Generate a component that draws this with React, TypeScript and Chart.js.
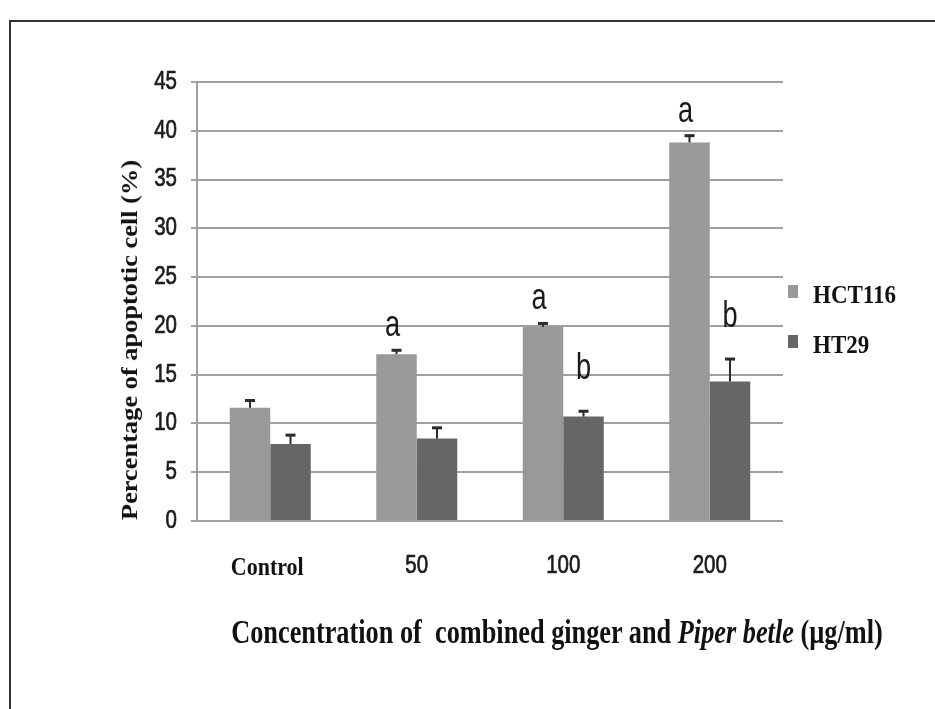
import React, { useEffect, useRef } from 'react';
import { Chart, registerables } from 'chart.js';

Chart.register(...registerables);

// Doses of the combined extract (x axis)
const categories = ['Control', '50', '100', '200'];

// Apoptotic cells (%) and standard errors for each cell line
const hct116Values = [11.6, 17.1, 19.9, 38.8];
const hct116Errors = [0.75, 0.4, 0.35, 0.7];
const ht29Values = [7.9, 8.45, 10.7, 14.3];
const ht29Errors = [0.9, 1.1, 0.55, 2.3];

// Significance letters above the bars
const hct116Letters = ['', 'a', 'a', 'a'];
const ht29Letters = ['', '', 'b', 'b'];

// Y axis range
const yMin = 0;
const yMax = 45;
const yStep = 5;

const SANS = '"Liberation Sans", Arial, sans-serif';
const SERIF = '"Liberation Serif", "Times New Roman", serif';

// Draws horizontally condensed text at a point, optionally a little heavier
function drawNarrow(
  ctx: CanvasRenderingContext2D,
  text: string,
  x: number,
  y: number,
  font: string,
  align: CanvasTextAlign,
  baseline: CanvasTextBaseline,
  sx: number,
  sy: number,
  color: string,
  weight = 0
) {
  ctx.save();
  ctx.translate(x, y);
  ctx.scale(sx, sy);
  ctx.font = font;
  ctx.fillStyle = color;
  ctx.textAlign = align;
  ctx.textBaseline = baseline;
  ctx.fillText(text, 0, 0);
  if (weight > 0) {
    ctx.strokeStyle = color;
    ctx.lineWidth = weight;
    ctx.lineJoin = 'round';
    ctx.strokeText(text, 0, 0);
  }
  ctx.restore();
}

// Axis tick labels, taken from the chart's own scales
const tickLabelPlugin = {
  id: 'condensedTickLabels',
  afterDraw(chart: any) {
    const ctx = chart.ctx;
    const { x: xScale, y: yScale } = chart.scales;
    const area = chart.chartArea;
    const yTickLen = yScale.options.grid.tickLength;
    yScale.ticks.forEach((t: any) => {
      const py = yScale.getPixelForValue(t.value);
      drawNarrow(ctx, String(t.label), area.left - yTickLen - 14, py, `25px ${SANS}`, 'right', 'middle', 0.82, 1, '#1c1c1c', 0.7);
    });
    xScale.ticks.forEach((t: any, i: number) => {
      const px = xScale.getPixelForTick(i);
      const label = String(xScale.getLabelForValue(t.value));
      const py = area.bottom + 47;
      if (i === 0) {
        drawNarrow(ctx, label, px - 3, py + 1, `bold 22px ${SERIF}`, 'center', 'middle', 1, 1.12, '#111111');
      } else {
        drawNarrow(ctx, label, px, py - 2, `25px ${SANS}`, 'center', 'middle', 0.82, 1, '#1c1c1c', 0.7);
      }
    });
  },
};

// Upward error bars and significance letters
const errorBarPlugin = {
  id: 'errorBarsAndLetters',
  afterDatasetsDraw(chart: any) {
    const ctx = chart.ctx;
    const yScale = chart.scales.y;
    chart.data.datasets.forEach((ds: any, di: number) => {
      const meta = chart.getDatasetMeta(di);
      meta.data.forEach((bar: any, i: number) => {
        const v = ds.data[i];
        const e = ds.errors[i];
        const yBase = yScale.getPixelForValue(v);
        const yTop = yScale.getPixelForValue(v + e);
        ctx.save();
        ctx.strokeStyle = '#2a2a2a';
        ctx.lineWidth = 2;
        ctx.beginPath();
        ctx.moveTo(bar.x, yBase);
        ctx.lineTo(bar.x, yTop);
        ctx.stroke();
        ctx.lineWidth = 3;
        ctx.beginPath();
        ctx.moveTo(bar.x - 5, yTop);
        ctx.lineTo(bar.x + 5, yTop);
        ctx.stroke();
        ctx.restore();

        const letter = ds.letters[i];
        if (letter) {
          drawNarrow(ctx, letter, bar.x + ds.letterDx, yTop - ds.letterGap, `32px ${SANS}`, 'center', 'alphabetic', 0.85, 1.15, '#1a1a1a');
        }
      });
    });
  },
};

export default function App() {
  const canvasRef = useRef<HTMLCanvasElement | null>(null);

  useEffect(() => {
    const canvas = canvasRef.current;
    if (!canvas) return;
    const chart = new Chart(canvas, {
      type: 'bar',
      data: {
        labels: categories,
        datasets: [
          {
            label: 'HCT116',
            data: hct116Values,
            errors: hct116Errors,
            letters: hct116Letters,
            letterGap: 14,
            letterDx: -4,
            backgroundColor: '#999999',
            categoryPercentage: 0.553,
            barPercentage: 1,
          } as any,
          {
            label: 'HT29',
            data: ht29Values,
            errors: ht29Errors,
            letters: ht29Letters,
            letterGap: 32,
            letterDx: 0,
            backgroundColor: '#666666',
            categoryPercentage: 0.553,
            barPercentage: 1,
          } as any,
        ],
      },
      options: {
        animation: false,
        responsive: false,
        events: [],
        layout: { padding: { top: 82, right: 152, bottom: 0, left: 0 } },
        plugins: {
          legend: { display: false },
          tooltip: { enabled: false },
        },
        scales: {
          x: {
            grid: { display: false, drawTicks: false },
            border: { display: false },
            ticks: { display: false, autoSkip: false, maxRotation: 0 },
            afterFit: (s: any) => {
              s.height = 188;
            },
          },
          y: {
            min: yMin,
            max: yMax,
            ticks: { stepSize: yStep, display: false },
            grid: { color: '#a0a0a0', lineWidth: 2, tickLength: 6 },
            border: { color: '#a0a0a0', width: 2 },
            afterFit: (s: any) => {
              s.width = 197;
            },
          },
        },
      } as any,
      plugins: [errorBarPlugin, tickLabelPlugin],
    });
    return () => chart.destroy();
  }, []);

  const legendText: React.CSSProperties = {
    position: 'absolute',
    left: 813,
    fontFamily: SERIF,
    fontWeight: 'bold',
    fontSize: 23,
    color: '#111',
    lineHeight: '23px',
    whiteSpace: 'nowrap',
    transform: 'translateY(-50%) scaleY(1.12)',
  };

  return (
    <div
      style={{
        position: 'absolute',
        left: 0,
        top: 0,
        width: 935,
        height: 709,
        overflow: 'hidden',
        background: '#ffffff',
      }}
    >
      <div
        style={{
          position: 'absolute',
          left: 9,
          top: 20,
          width: 960,
          height: 720,
          borderLeft: '2px solid #333',
          borderTop: '2px solid #333',
        }}
      />
      <canvas ref={canvasRef} width={935} height={709} style={{ position: 'absolute', left: 0, top: 0 }} />

      {/* legend */}
      <div style={{ position: 'absolute', left: 788, top: 285, width: 10, height: 13, background: '#999999' }} />
      <div style={{ ...legendText, top: 295 }}>HCT116</div>
      <div style={{ position: 'absolute', left: 788, top: 335, width: 10, height: 13, background: '#666666' }} />
      <div style={{ ...legendText, top: 345 }}>HT29</div>

      {/* y axis title */}
      <div
        style={{
          position: 'absolute',
          left: 129,
          top: 340,
          fontFamily: SERIF,
          fontWeight: 'bold',
          fontSize: 24,
          lineHeight: '24px',
          color: '#111',
          whiteSpace: 'nowrap',
          transform: 'translate(-50%, -50%) rotate(-90deg) scaleX(1.1)',
        }}
      >
        Percentage of apoptotic cell (%)
      </div>

      {/* x axis title */}
      <div
        style={{
          position: 'absolute',
          left: 557,
          top: 633,
          fontFamily: SERIF,
          fontWeight: 'bold',
          fontSize: 26.3,
          lineHeight: '26px',
          color: '#111',
          whiteSpace: 'pre',
          transform: 'translate(-50%, -50%) scaleY(1.3)',
        }}
      >
        {'Concentration of  combined ginger and '}
        <i>Piper betle</i>
        {' (µg/ml)'}
      </div>
    </div>
  );
}
